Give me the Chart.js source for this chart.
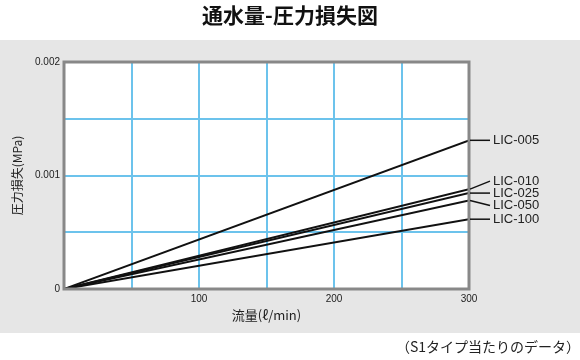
<!DOCTYPE html>
<html>
<head>
<meta charset="utf-8">
<script src="https://cdn.jsdelivr.net/npm/chart.js@4"></script>
<style>
  html, body { margin: 0; padding: 0; background: #fff; }
  #wrap { width: 580px; height: 360px; position: relative; }
</style>
</head>
<body>
<div id="wrap"><canvas id="lossChart" width="580" height="360"></canvas></div>
<script>
// data
var flows = [0, 300];
var seriesNames = ['LIC-005', 'LIC-010', 'LIC-025', 'LIC-050', 'LIC-100'];
var lic005 = [0, 0.00131];
var lic010 = [0, 0.00088];
var lic025 = [0, 0.000845];
var lic050 = [0, 0.00078];
var lic100 = [0, 0.000615];
var yTickLabels = ['0', '0.001', '0.002'];
var xTickLabels = ['100', '200', '300'];

var seriesValues = [lic005, lic010, lic025, lic050, lic100];
// label nudge in px so the names do not overlap
var labelNudge = [0, -8, 0, 5, 0];

var FONT = '"Liberation Sans", "Noto Sans CJK JP", sans-serif';
var JFONT = '"Noto Sans CJK JP", sans-serif';

var datasets = seriesNames.map(function (name, i) {
    return {
        label: name,
        data: flows.map(function (f, j) { return { x: f, y: seriesValues[i][j] }; }),
        borderColor: '#111',
        borderWidth: 2,
        pointRadius: 0,
        fill: false
    };
});

function pickLabel(list, v) {
    for (var i = 0; i < list.length; i++) {
        if (Math.abs(parseFloat(list[i]) - v) < 1e-9) return list[i];
    }
    return '';
}

var framePlugin = {
    id: 'frame',
    beforeDraw: function (chart) {
        var c = chart.ctx, a = chart.chartArea;
        c.save();
        c.fillStyle = '#fff';
        c.fillRect(0, 0, chart.width, chart.height);
        c.fillStyle = '#e6e6e6';
        c.fillRect(0, 40, chart.width, 293);
        c.fillStyle = '#fff';
        c.fillRect(a.left, a.top, a.right - a.left, a.bottom - a.top);
        c.restore();
    },
    afterDatasetsDraw: function (chart) {
        var c = chart.ctx, a = chart.chartArea;
        var xs = chart.scales.x, ys = chart.scales.y;
        c.save();
        c.strokeStyle = '#888';
        c.lineWidth = 3;
        c.strokeRect(a.left, a.top, a.right - a.left, a.bottom - a.top);

        // leader lines and series names
        c.strokeStyle = '#111';
        c.lineWidth = 1.5;
        c.fillStyle = '#222';
        c.font = '13px ' + FONT;
        c.textBaseline = 'middle';
        c.textAlign = 'left';
        seriesNames.forEach(function (name, i) {
            var vals = seriesValues[i];
            var yEnd = ys.getPixelForValue(vals[vals.length - 1]);
            var xEnd = xs.getPixelForValue(flows[flows.length - 1]);
            var yLab = yEnd + labelNudge[i];
            c.beginPath();
            c.moveTo(xEnd + 1, yEnd);
            c.lineTo(xEnd + 21, yLab);
            c.stroke();
            c.fillText(name, xEnd + 24, yLab);
        });

        // titles
        c.fillStyle = '#111';
        c.textAlign = 'center';
        c.font = '600 21px ' + JFONT;
        c.fillText('通水量-圧力損失図', 290, 15);

        c.fillStyle = '#222';
        c.font = '13px ' + JFONT;
        c.fillText('流量(ℓ/min)', (a.left + a.right) / 2, 315);

        c.save();
        c.translate(17, (a.top + a.bottom) / 2);
        c.rotate(-Math.PI / 2);
        c.font = '12px ' + JFONT;
        c.fillText('圧力損失(MPa)', 0, 0);
        c.restore();

        c.textAlign = 'right';
        c.font = '14px ' + JFONT;
        c.fillText('（S1タイプ当たりのデータ）', 580, 347);
        c.restore();
    }
};

var ctx = document.getElementById('lossChart').getContext('2d');

var lossChart = new Chart(ctx, {
    type: 'line',
    data: { datasets: datasets },
    options: {
        responsive: false,
        animation: false,
        layout: { padding: { left: 0, right: 111, top: 62, bottom: 0 } },
        plugins: {
            legend: { display: false },
            title: { display: false },
            tooltip: { enabled: false }
        },
        scales: {
            x: {
                type: 'linear',
                min: 0,
                max: 300,
                border: { display: false },
                grid: { color: '#6cc3ec', lineWidth: 2, drawTicks: false },
                ticks: {
                    stepSize: 50,
                    padding: 4,
                    color: '#222',
                    font: { size: 10, family: FONT },
                    maxRotation: 0,
                    callback: function (v) { return pickLabel(xTickLabels, v); }
                },
                afterFit: function (s) { s.height = 71; }
            },
            y: {
                min: 0,
                max: 0.002,
                border: { display: false },
                grid: { color: '#6cc3ec', lineWidth: 2, drawTicks: false },
                ticks: {
                    stepSize: 0.0005,
                    padding: 4,
                    color: '#222',
                    font: { size: 10, family: FONT },
                    callback: function (v) { return pickLabel(yTickLabels, v); }
                },
                afterFit: function (s) { s.width = 64; }
            }
        }
    },
    plugins: [framePlugin]
});
</script>
</body>
</html>
